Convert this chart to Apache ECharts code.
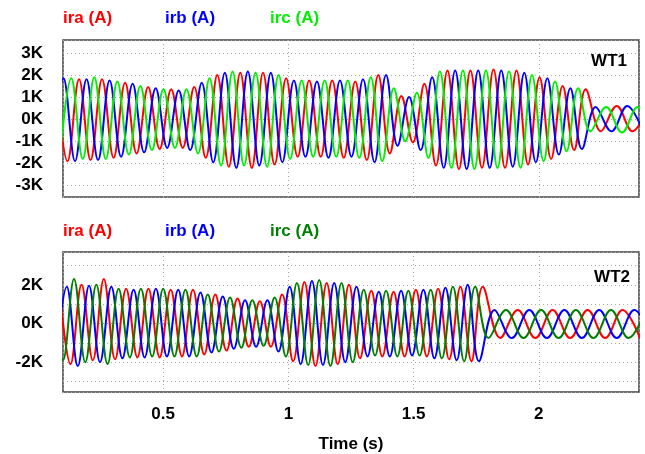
<!DOCTYPE html>
<html><head><meta charset="utf-8">
<script src="https://cdn.jsdelivr.net/npm/echarts@6/dist/echarts.min.js"></script>
<style>html,body{margin:0;padding:0;background:#fff}#c{width:645px;height:454px}</style>
</head><body><div id="c"></div>
<script>
// ---- Data (currents in kA), each phase given at its successive peaks/troughs ----
// WT1
const wt1TimeA = [0.072,0.118,0.164,0.210,0.256,0.302,0.348,0.394,0.440,0.486,0.532,0.578,0.624,0.670,0.716,0.762,0.808,0.854,0.899,0.945,0.991,1.037,1.083,1.129,1.175,1.221,1.267,1.313,1.359,1.405,1.451,1.497,1.543,1.589,1.635,1.681,1.727,1.773,1.819,1.865,1.911,1.957,2.003,2.049,2.095,2.141,2.187,2.248,2.311,2.374,2.437];
const wt1Ira = [1.8,-1.9,1.8,-1.85,1.8,-1.75,1.65,-1.55,1.45,-1.35,1.35,-1.3,1.45,-1.75,2.0,-2.15,2.1,-2.2,2.1,-2.05,1.85,-1.7,1.75,-1.7,1.75,-1.75,1.7,-1.85,2.0,-1.55,1.05,-1.05,1.6,-2.1,2.2,-2.25,2.2,-2.2,2.25,-2.2,2.2,-2.05,1.9,-1.8,1.5,-1.4,1.35,-0.55,0.6,-0.55,0.55];
const wt1TimeB = [0.056,0.102,0.148,0.194,0.240,0.286,0.332,0.378,0.424,0.470,0.516,0.562,0.608,0.654,0.700,0.746,0.792,0.838,0.884,0.930,0.976,1.022,1.068,1.114,1.160,1.206,1.252,1.298,1.344,1.390,1.436,1.482,1.528,1.574,1.620,1.666,1.712,1.758,1.804,1.850,1.896,1.942,1.988,2.034,2.080,2.126,2.172,2.227,2.290,2.353,2.416];
const wt1Irb = [-1.85,1.85,-1.9,1.8,-1.85,1.75,-1.7,1.6,-1.5,1.4,-1.3,1.3,-1.4,1.65,-1.95,2.1,-2.2,2.15,-2.1,2.1,-1.95,1.75,-1.7,1.7,-1.75,1.75,-1.7,1.8,-1.95,2.0,-1.2,1.0,-1.4,1.9,-2.2,2.2,-2.25,2.2,-2.2,2.2,-2.15,2.1,-1.95,1.85,-1.6,1.4,-1.35,0.55,-0.55,0.6,-0.55];
const wt1TimeC = [0.087,0.133,0.179,0.225,0.271,0.317,0.363,0.409,0.455,0.501,0.547,0.593,0.639,0.685,0.731,0.777,0.823,0.869,0.915,0.961,1.007,1.053,1.099,1.145,1.191,1.237,1.283,1.329,1.375,1.421,1.467,1.513,1.559,1.605,1.651,1.697,1.743,1.789,1.835,1.881,1.927,1.973,2.019,2.065,2.111,2.157,2.206,2.269,2.332,2.395,2.458];
const wt1Irc = [-1.8,1.85,-1.8,1.9,-1.8,1.7,-1.6,1.5,-1.4,1.35,-1.3,1.35,-1.55,1.85,-2.1,2.15,-2.1,2.1,-2.15,2.0,-1.8,1.75,-1.7,1.75,-1.7,1.75,-1.75,1.9,-1.9,1.4,-1.0,1.2,-1.75,2.15,-2.2,2.2,-2.25,2.2,-2.2,2.15,-2.2,2.0,-1.9,1.7,-1.45,1.4,-0.55,0.55,-0.6,0.55,-0.55];
// WT2
const wt2TimeA = [0.085,0.130,0.174,0.219,0.263,0.308,0.352,0.397,0.441,0.486,0.530,0.575,0.619,0.664,0.708,0.753,0.797,0.842,0.886,0.930,0.975,1.019,1.064,1.108,1.153,1.197,1.242,1.286,1.331,1.375,1.420,1.464,1.509,1.553,1.598,1.642,1.687,1.731,1.776,1.846,1.916,1.986,2.055,2.125,2.195,2.265,2.334,2.404];
const wt2Ira = [1.9,-2.1,2.0,-1.9,2.3,-1.85,1.8,-1.75,1.8,-1.75,1.75,-1.7,1.75,-1.6,1.5,-1.4,1.3,-1.2,1.15,-1.2,1.5,-1.95,2.15,-2.2,2.1,-2.1,2.0,-1.8,1.7,-1.7,1.65,-1.7,1.75,-1.7,1.8,-1.85,1.9,-1.95,1.9,-0.75,0.7,-0.75,0.7,-0.75,0.7,-0.75,0.7,-0.75];
const wt2TimeB = [0.070,0.115,0.159,0.204,0.248,0.293,0.337,0.382,0.426,0.471,0.515,0.560,0.604,0.649,0.693,0.738,0.782,0.827,0.871,0.916,0.960,1.005,1.049,1.094,1.138,1.183,1.227,1.272,1.316,1.361,1.405,1.450,1.494,1.539,1.583,1.627,1.672,1.716,1.761,1.823,1.892,1.962,2.032,2.102,2.172,2.241,2.311,2.381,2.451];
const wt2Irb = [-2.0,1.9,-2.2,1.95,-2.0,1.9,-1.8,1.75,-1.75,1.8,-1.7,1.75,-1.7,1.6,-1.5,1.4,-1.3,1.2,-1.2,1.2,-1.45,1.9,-2.1,2.2,-2.15,2.1,-2.0,1.9,-1.7,1.65,-1.7,1.7,-1.65,1.75,-1.8,1.85,-1.9,2.0,-1.95,0.7,-0.75,0.7,-0.75,0.7,-0.75,0.7,-0.75,0.7,-0.75];
const wt2TimeC = [0.055,0.100,0.144,0.189,0.233,0.278,0.322,0.367,0.411,0.456,0.500,0.545,0.589,0.634,0.678,0.723,0.767,0.812,0.856,0.901,0.945,0.990,1.034,1.079,1.123,1.168,1.212,1.257,1.301,1.346,1.390,1.435,1.479,1.524,1.568,1.613,1.657,1.702,1.746,1.799,1.869,1.939,2.009,2.079,2.148,2.218,2.288,2.358,2.427];
const wt2Irc = [2.0,-1.9,2.3,-2.0,2.0,-2.1,1.8,-1.75,1.8,-1.7,1.8,-1.7,1.75,-1.7,1.5,-1.45,1.35,-1.25,1.2,-1.15,1.35,-1.7,2.1,-2.15,2.25,-2.2,2.1,-2.0,1.75,-1.65,1.7,-1.7,1.7,-1.65,1.75,-1.8,1.9,-1.95,1.9,-0.75,0.7,-0.75,0.7,-0.75,0.7,-0.75,0.7,-0.75,0.7];

const seriesNames = ['ira (A)', 'irb (A)', 'irc (A)'];
const panelTitles = ['WT1', 'WT2'];
const xTickLabels = [0.5, 1, 1.5, 2];
const yTickLabelsTop = [-3, -2, -1, 0, 1, 2, 3];
const yTickLabelsBottom = [-2, 0, 2];

const zip = (t, v) => t.map((x, i) => [x, v[i]]);
const FONT = 'Liberation Sans';
const colorsTop = ['#ff0000', '#0000ff', '#00ee00'];
const colorsBot = ['#ff0000', '#0000ff', '#008000'];

const chart = echarts.init(document.getElementById('c'), null, {renderer: 'canvas'});

function xAx(idx, showLabels) {
  return {
    type: 'value', gridIndex: idx, min: 0.1, max: 2.4, splitNumber: 5,
    axisLine: {show: false}, axisTick: {show: false},
    axisLabel: {
      show: showLabels, showMinLabel: false, showMaxLabel: false, margin: 14,
      color: '#000', fontFamily: FONT, fontWeight: 'bold', fontSize: 17,
      formatter: v => xTickLabels.some(t => Math.abs(t - v) < 1e-6) ? String(+v.toFixed(2)) : ''
    },
    splitLine: {show: true, lineStyle: {color: '#aaa', type: [1, 3], width: 1}},
    name: showLabels ? 'Time (s)' : '', nameLocation: 'middle', nameGap: 44,
    nameTextStyle: {color: '#000', fontFamily: FONT, fontWeight: 'bold', fontSize: 17}
  };
}
function yAx(idx, labels, min, max) {
  return {
    type: 'value', gridIndex: idx, min, max, splitNumber: 7,
    axisLine: {show: false}, axisTick: {show: false},
    axisLabel: {
      showMinLabel: false, showMaxLabel: false, margin: 20,
      color: '#000', fontFamily: FONT, fontWeight: 'bold', fontSize: 17,
      formatter: v => labels.some(t => Math.abs(t - v) < 1e-6) ? Math.round(v) + 'K' : ''
    },
    splitLine: {show: true, lineStyle: {color: '#aaa', type: [1, 3], width: 1}}
  };
}
function line(name, data, color, gi) {
  return {
    name, type: 'line', xAxisIndex: gi, yAxisIndex: gi, data,
    smooth: 0.38, showSymbol: false, symbol: 'none', clip: true,
    lineStyle: {color, width: 2}, itemStyle: {color}, animation: false
  };
}
function legendTexts(y, colors) {
  const xs = [63, 165, 270];
  return seriesNames.map((n, i) => ({
    type: 'text', left: xs[i], top: y,
    style: {text: n, fill: colors[i], font: 'bold 17px "Liberation Sans"'}
  }));
}

chart.setOption({
  animation: false,
  backgroundColor: '#fff',
  grid: [
    {left: 63, right: 6, top: 40, height: 157, show: true, borderColor: '#444', borderWidth: 1.5, backgroundColor: 'transparent'},
    {left: 63, right: 6, top: 252, height: 147, show: true, borderColor: '#444', borderWidth: 1.5, backgroundColor: 'transparent'}
  ],
  xAxis: [xAx(0, false), xAx(1, true)],
  yAxis: [yAx(0, yTickLabelsTop, -3.52, 3.58), yAx(1, yTickLabelsBottom, -3.54, 3.7)],
  series: [
    line(seriesNames[0], zip(wt1TimeA, wt1Ira), colorsTop[0], 0),
    line(seriesNames[1], zip(wt1TimeB, wt1Irb), colorsTop[1], 0),
    line(seriesNames[2], zip(wt1TimeC, wt1Irc), colorsTop[2], 0),
    line(seriesNames[0], zip(wt2TimeA, wt2Ira), colorsBot[0], 1),
    line(seriesNames[1], zip(wt2TimeB, wt2Irb), colorsBot[1], 1),
    line(seriesNames[2], zip(wt2TimeC, wt2Irc), colorsBot[2], 1)
  ],
  graphic: [
    ...legendTexts(10, colorsTop),
    ...legendTexts(223, colorsBot),
    {type: 'text', right: 18, top: 53, style: {text: panelTitles[0], fill: '#000', font: 'bold 17px "Liberation Sans"'}},
    {type: 'text', right: 15, top: 269, style: {text: panelTitles[1], fill: '#000', font: 'bold 17px "Liberation Sans"'}}
  ]
});
</script></body></html>
